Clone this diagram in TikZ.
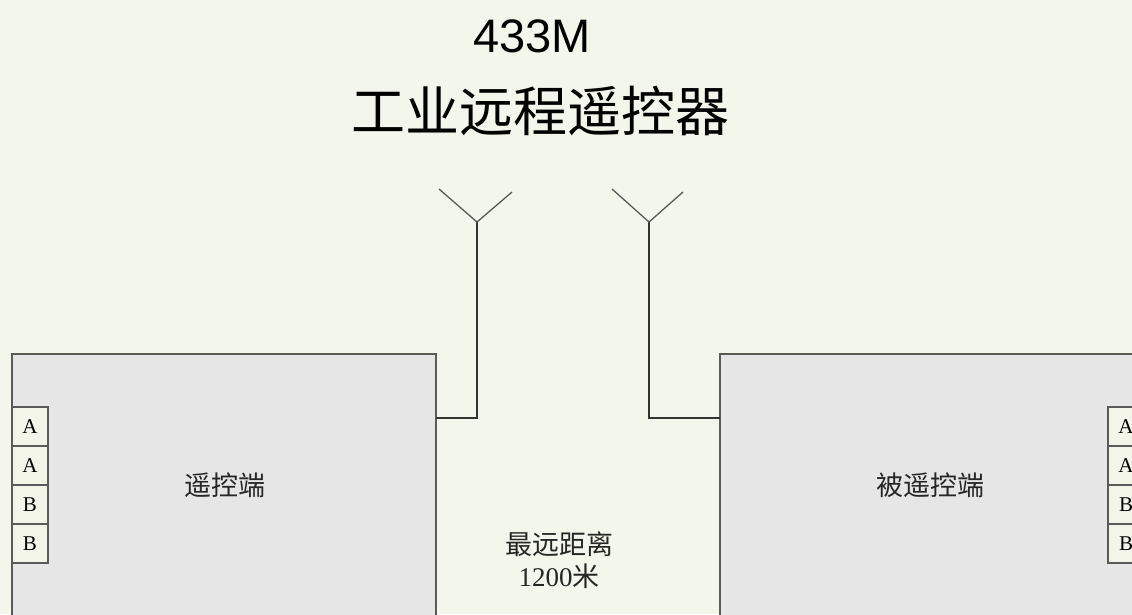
\documentclass[tikz,border=0pt]{standalone}
\usepackage{fontspec}
\setmainfont{Liberation Serif}
\newfontfamily\cjk{Noto Sans CJK SC}
\newfontfamily\arialf{Liberation Sans}
\definecolor{bgc}{HTML}{F3F6EA}
\definecolor{boxfill}{HTML}{E6E6E6}
\definecolor{boxline}{HTML}{5A5A5A}
\definecolor{cellfill}{HTML}{F2F5E8}
\begin{document}
\begin{tikzpicture}[x=1pt,y=-1pt,
  unitbox/.style={draw=boxline, line width=2.2pt, fill=boxfill},
  cell/.style={draw=boxline, line width=1.3pt, fill=cellfill, minimum width=36pt, minimum height=39pt, inner sep=0pt, font=\fontsize{21}{21}\selectfont},
  wire/.style={draw=black!80, line width=1.3pt},
  lab/.style={font=\cjk\fontsize{27}{30}\selectfont, text=black!85},
  ]
\fill[bgc] (0,0) rectangle (1132,614);
\useasboundingbox (0,0) rectangle (1132,614);
% title
\node[font=\arialf\fontsize{47}{47}\selectfont, anchor=base] (t1) at (532,52) {433M};
\node[font=\cjk\fontsize{54}{54}\selectfont] (t2) at (540,111) {工业远程遥控器};
% boxes
\path[unitbox] (12,354) rectangle (436,630);
\path[unitbox] (720,354) rectangle (1150,630);
\coordinate (lbR) at (436,418);
\coordinate (rbL) at (720,418);
% cells left
\node[cell] (la1) at (30,426.5) {A};
\node[cell] (la2) at (30,465.5) {A};
\node[cell] (lb1) at (30,504.5) {B};
\node[cell] (lb2) at (30,543.5) {B};
% cells right
\node[cell] (ra1) at (1126,426.5) {A};
\node[cell] (ra2) at (1126,465.5) {A};
\node[cell] (rb1) at (1126,504.5) {B};
\node[cell] (rb2) at (1126,543.5) {B};
% labels
\node[lab] (lt) at (225,485) {遥控端};
\node[lab] (rt) at (930,485) {被遥控端};
\node[lab, align=center, font=\fontsize{27}{32}\selectfont] (dist) at (559,560) {{\cjk 最远距离}\\1200{\cjk 米}};
% antennas
\coordinate (a1) at (477,222);
\coordinate (a1l) at (439,189);
\coordinate (a1r) at (512,192);
\coordinate (a1b) at (477,418);
\coordinate (a2) at (649,222);
\coordinate (a2l) at (612,189);
\coordinate (a2r) at (683,192);
\coordinate (a2b) at (649,418);
\draw[wire] (lbR) -- (a1b) -- (a1);
\draw[wire, draw=black!65] (a1l) -- (a1) -- (a1r);
\draw[wire] (rbL) -- (a2b) -- (a2);
\draw[wire, draw=black!65] (a2l) -- (a2) -- (a2r);
\end{tikzpicture}
\end{document}
